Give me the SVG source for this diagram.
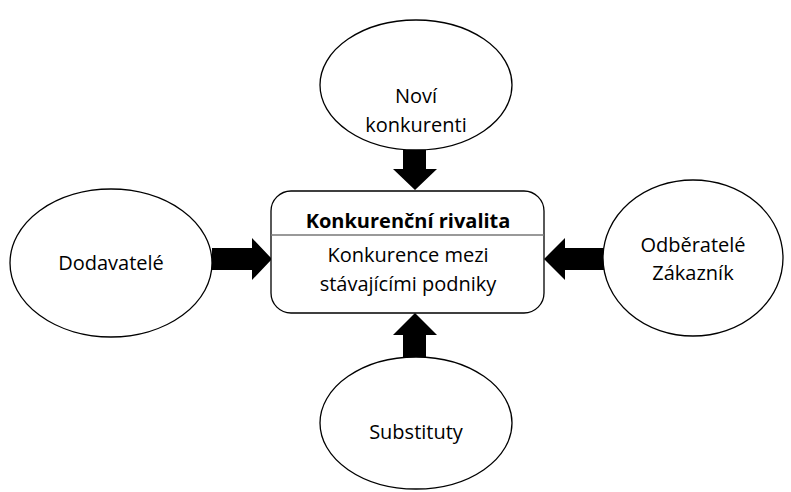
<svg xmlns="http://www.w3.org/2000/svg" width="791" height="492" viewBox="0 0 791 492">
<style>
.el{fill:#fff;stroke:#000;stroke-width:1.3}
.t{font-family:"Open Sans","Liberation Sans",sans-serif;font-size:20px;fill:#000;text-anchor:middle}
.b{font-weight:bold}
.ar{fill:#000}
</style>
<rect width="791" height="492" fill="#fff"/>
<g id="connectors">
<polygon class="ar" points="403,147 426,147 426,169 437,169 415,190 393,169 403,169"/>
<polygon class="ar" points="212,248 252,248 252,238 272,259 252,280 252,270 212,270"/>
<polygon class="ar" points="604,248 565,248 565,238 544,259 565,280 565,270 604,270"/>
<polygon class="ar" points="403,360 426,360 426,335 437,335 415,313 393,335 403,335"/>
</g>
<g id="center">
<rect x="271" y="191" width="273" height="122" rx="20" ry="20" class="el"/>
<line x1="271" y1="235" x2="544" y2="235" stroke="#777" stroke-width="1.3"/>
<text class="t b" x="408" y="228">Konkurenční rivalita</text>
<text class="t" x="408" y="262">Konkurence mezi</text>
<text class="t" x="408" y="291">stávajícími podniky</text>
</g>
<g id="novi">
<ellipse cx="416" cy="85" rx="96" ry="65" class="el"/>
<text class="t" x="416" y="103">Noví</text>
<text class="t" x="416" y="132">konkurenti</text>
</g>
<g id="dodavatele">
<ellipse cx="111" cy="263" rx="101" ry="74" class="el"/>
<text class="t" x="111" y="270">Dodavatelé</text>
</g>
<g id="odberatele">
<ellipse cx="693" cy="258" rx="90" ry="78" class="el"/>
<text class="t" x="693" y="252">Odběratelé</text>
<text class="t" x="693" y="280">Zákazník</text>
</g>
<g id="substituty">
<ellipse cx="416" cy="423" rx="96" ry="66" class="el"/>
<text class="t" x="416" y="439">Substituty</text>
</g>
</svg>
